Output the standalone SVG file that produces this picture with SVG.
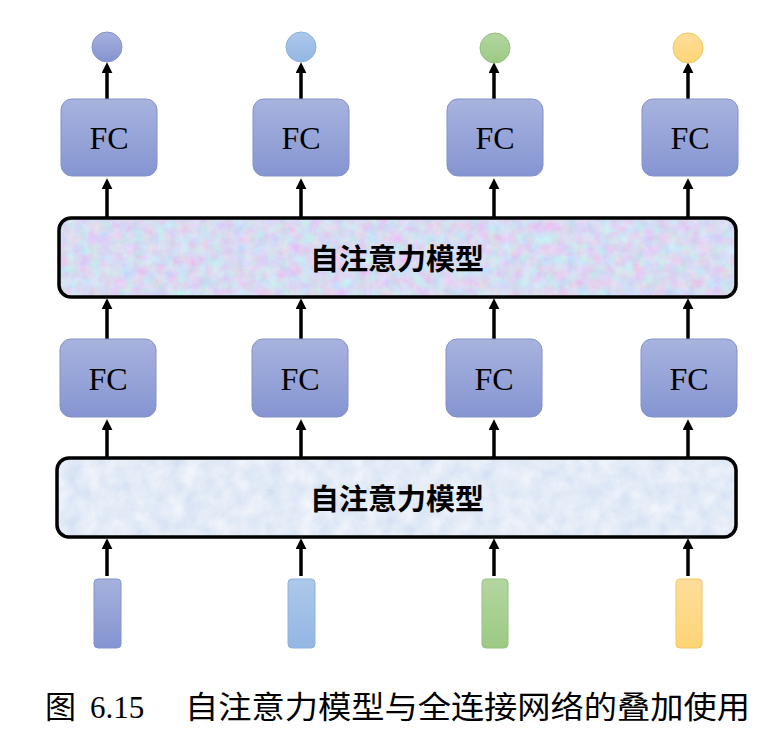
<svg xmlns="http://www.w3.org/2000/svg" width="770" height="733" viewBox="0 0 770 733">
<style>
.fc{fill:url(#gFC);stroke:#8291cc;stroke-width:1}
.fct{font-family:"Liberation Serif",serif;font-size:32px;fill:#000;text-anchor:middle}
.att{stroke:#000;stroke-width:3.5}
.attt{font-family:"Noto Sans CJK SC",sans-serif;font-weight:bold;font-size:29px;fill:#000;text-anchor:middle}
.arr{stroke:#000;stroke-width:3.5;fill:none;marker-end:url(#ah)}
.cap{font-family:"Liberation Serif","Noto Sans CJK SC",serif;font-size:31px;fill:#000}
</style>
<defs>
<marker id="ah" viewBox="0 0 10 10" refX="2" refY="5" markerWidth="11" markerHeight="11" markerUnits="userSpaceOnUse" orient="auto">
<path d="M0,0 L10,5 L0,10 z" fill="#000"/>
</marker>
<linearGradient id="gFC" x1="0" y1="0" x2="0" y2="1"><stop offset="0" stop-color="#a8b3de"/><stop offset="1" stop-color="#8595d2"/></linearGradient>
<linearGradient id="gB1" x1="0" y1="0" x2="0" y2="1"><stop offset="0" stop-color="#a6b1dd"/><stop offset="1" stop-color="#8494d1"/></linearGradient>
<linearGradient id="gB2" x1="0" y1="0" x2="0" y2="1"><stop offset="0" stop-color="#adc8ea"/><stop offset="1" stop-color="#93b6e4"/></linearGradient>
<linearGradient id="gG" x1="0" y1="0" x2="0" y2="1"><stop offset="0" stop-color="#b3d6a0"/><stop offset="1" stop-color="#9cca84"/></linearGradient>
<linearGradient id="gY" x1="0" y1="0" x2="0" y2="1"><stop offset="0" stop-color="#fedd9a"/><stop offset="1" stop-color="#fdd475"/></linearGradient>
<filter id="tex1" x="0" y="0" width="100%" height="100%">
<feTurbulence type="fractalNoise" baseFrequency="0.09" numOctaves="4" seed="5" result="n"/>
<feColorMatrix in="n" type="matrix" values="0.45 0 0 0 0.46  -0.3 0.35 0 0 0.68  0 0 0.25 0 0.76  0 0 0 0 1" result="c"/>
<feComposite in="c" in2="SourceGraphic" operator="in"/>
</filter>
<filter id="tex2" x="0" y="0" width="100%" height="100%">
<feTurbulence type="fractalNoise" baseFrequency="0.06" numOctaves="4" seed="9" result="n"/>
<feColorMatrix in="n" type="matrix" values="0.3 0 0 0 0.62  0.22 0 0 0 0.72  0.1 0 0 0 0.88  0 0 0 0 1" result="c"/>
<feComposite in="c" in2="SourceGraphic" operator="in"/>
</filter>
</defs>
<rect width="770" height="733" fill="#fff"/>
<g id="connectors">
<line class="arr" x1="107" y1="99" x2="107" y2="71"/>
<line class="arr" x1="301" y1="99" x2="301" y2="71"/>
<line class="arr" x1="494" y1="99" x2="494" y2="71"/>
<line class="arr" x1="688" y1="99" x2="688" y2="71"/>
<line class="arr" x1="107" y1="218" x2="107" y2="187"/>
<line class="arr" x1="301" y1="218" x2="301" y2="187"/>
<line class="arr" x1="494" y1="218" x2="494" y2="187"/>
<line class="arr" x1="688" y1="218" x2="688" y2="187"/>
<line class="arr" x1="107" y1="339" x2="107" y2="307"/>
<line class="arr" x1="301" y1="339" x2="301" y2="307"/>
<line class="arr" x1="494" y1="339" x2="494" y2="307"/>
<line class="arr" x1="688" y1="339" x2="688" y2="307"/>
<line class="arr" x1="107" y1="458" x2="107" y2="428"/>
<line class="arr" x1="301" y1="458" x2="301" y2="428"/>
<line class="arr" x1="494" y1="458" x2="494" y2="428"/>
<line class="arr" x1="688" y1="458" x2="688" y2="428"/>
<line class="arr" x1="107" y1="576" x2="107" y2="547"/>
<line class="arr" x1="301" y1="576" x2="301" y2="547"/>
<line class="arr" x1="494" y1="576" x2="494" y2="547"/>
<line class="arr" x1="688" y1="576" x2="688" y2="547"/>
</g>
<g id="out1"><circle cx="107" cy="47" r="15" fill="url(#gB1)" stroke="#8393ce"/></g>
<g id="out2"><circle cx="301" cy="47" r="15" fill="url(#gB2)" stroke="#8fb1de"/></g>
<g id="out3"><circle cx="495" cy="48" r="15" fill="url(#gG)" stroke="#93c27c"/></g>
<g id="out4"><circle cx="688" cy="48" r="15" fill="url(#gY)" stroke="#f0c860"/></g>
<g id="fc_top1"><rect class="fc" x="61" y="99" width="96" height="77" rx="11"/><text class="fct" x="109" y="149">FC</text></g>
<g id="fc_top2"><rect class="fc" x="253" y="99" width="96" height="77" rx="11"/><text class="fct" x="301" y="149">FC</text></g>
<g id="fc_top3"><rect class="fc" x="447" y="99" width="96" height="77" rx="11"/><text class="fct" x="495" y="149">FC</text></g>
<g id="fc_top4"><rect class="fc" x="642" y="99" width="96" height="77" rx="11"/><text class="fct" x="690" y="149">FC</text></g>
<g id="att_top">
<rect x="59" y="218" width="677" height="79" rx="12" fill="#c4c6ec"/>
<rect x="59" y="218" width="677" height="79" rx="12" fill="#fff" filter="url(#tex1)"/>
<rect class="att" x="59" y="218" width="677" height="79" rx="12" fill="none"/>
<text class="attt" x="397" y="270">自注意力模型</text>
</g>
<g id="fc_bot1"><rect class="fc" x="60" y="339" width="96" height="78" rx="11"/><text class="fct" x="108" y="390">FC</text></g>
<g id="fc_bot2"><rect class="fc" x="252" y="339" width="96" height="78" rx="11"/><text class="fct" x="300" y="390">FC</text></g>
<g id="fc_bot3"><rect class="fc" x="446" y="339" width="96" height="78" rx="11"/><text class="fct" x="494" y="390">FC</text></g>
<g id="fc_bot4"><rect class="fc" x="641" y="339" width="96" height="78" rx="11"/><text class="fct" x="689" y="390">FC</text></g>
<g id="att_bot">
<rect x="57" y="458" width="679" height="79" rx="12" fill="#d6e3f4"/>
<rect x="57" y="458" width="679" height="79" rx="12" fill="#fff" filter="url(#tex2)"/>
<rect class="att" x="57" y="458" width="679" height="79" rx="12" fill="none"/>
<text class="attt" x="397" y="510">自注意力模型</text>
</g>
<g id="in1"><rect x="94" y="579" width="27" height="69" rx="4" fill="url(#gB1)" stroke="#8393ce"/></g>
<g id="in2"><rect x="288" y="579" width="27" height="69" rx="4" fill="url(#gB2)" stroke="#8fb1de"/></g>
<g id="in3"><rect x="482" y="579" width="26" height="69" rx="4" fill="url(#gG)" stroke="#93c27c"/></g>
<g id="in4"><rect x="676" y="579" width="26" height="69" rx="4" fill="url(#gY)" stroke="#f0c860"/></g>
<g id="caption">
<text class="cap" x="45" y="718">图</text>
<text class="cap" x="90" y="718">6.15</text>
<text class="cap" x="185" y="718" textLength="565" lengthAdjust="spacingAndGlyphs">自注意力模型与全连接网络的叠加使用</text>
</g>
</svg>
